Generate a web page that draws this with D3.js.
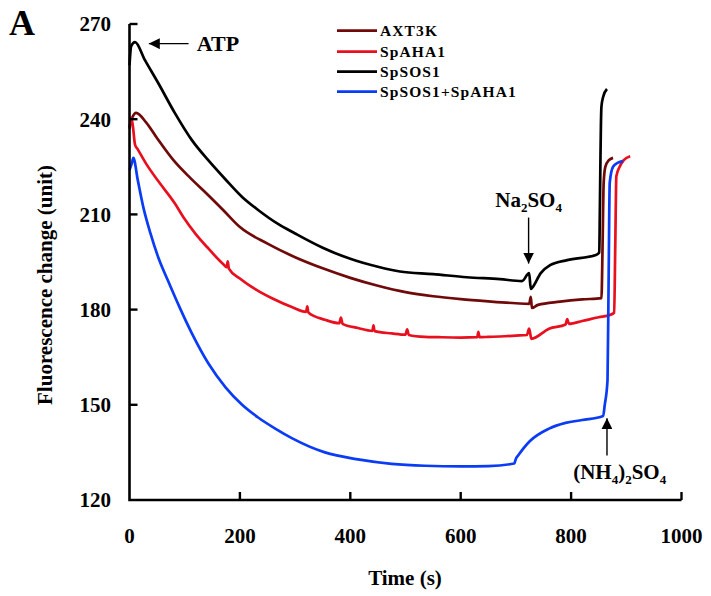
<!DOCTYPE html>
<html><head><meta charset="utf-8">
<script src="https://cdn.jsdelivr.net/npm/d3@7/dist/d3.min.js"></script>
<style>
body{margin:0;background:#fff;}
text{font-family:"Liberation Serif","Times New Roman",serif;font-weight:bold;fill:#000;}
</style></head>
<body><svg id="c" width="711" height="596"></svg>
<script>
// ---- data ----
const seriesNames = ["AXT3K", "SpAHA1", "SpSOS1", "SpSOS1+SpAHA1"];
const seriesColors = ["#700a0a", "#e8101e", "#000000", "#0a3cf5"];

const timeAXT3K = [0,5,12,30,50,80,110,140,170,200,250,300,350,400,450,500,550,600,650,700,724,727,729,740,780,820,855,857,859,862,868,876];
const valAXT3K  = [237,240.5,242,239,234,227,221.5,216.5,211.3,206,200.8,196.5,193,190,187.5,185.5,184.2,183.3,182.6,182,181.8,184,180.5,181.5,182.5,183.2,183.6,200,220,225,227,227.8];

const timeSpAHA1 = [0,3,6,10,15,30,52,82,98,120,140,170,176,178,180,200,230,260,294,320,322,324,354,380,383,386,414,440,442,444,475,500,503,506,535,560,600,630,632,634,650,680,700,720,724,728,760,790,793,796,820,850,870,878,880,882,888,895,907];
const valSpAHA1  = [237.5,240.5,238,232,230.5,226,220.5,213.5,209,203.8,199.8,194.3,193.4,195.2,192.9,189.8,186.2,183.4,180.8,179.3,181,179.1,176.8,175.7,177.5,175.5,174.2,173.3,175,173.2,172.5,172.1,173.8,172,171.4,171.3,171.2,171.3,173,171.3,171.4,171.6,171.8,172,174,170.8,174,175.3,177,175.5,176.4,177.6,178.3,179,200,222,225,227,228.3];

const timeSpSOS1 = [0,3,10,28,52,82,113,143,174,204,233,269,300,350,400,450,490,550,611,671,711,724,727,730,745,762,793,845,851,852,853,854,855,858,865];
const valSpSOS1  = [257,263,264.3,258.6,251.4,242,233.4,227,221,215.5,211.4,207,204,199.5,196,193.5,192,191.2,190.2,189.6,189,191.5,186.5,187,191.5,194,195.6,197.2,198,210,225,238,244,247,249.5];

const timeSpSOS1SpAHA1 = [0,4,7,15,25,38,52,70,90,113,143,174,204,233,264,294,354,414,475,535,600,650,697,700,704,725,760,790,820,858,861,866,868,870,876,885,894];
const valSpSOS1SpAHA1  = [224,226,227.8,220.8,212.3,204,196.5,189,181,172.5,163,155.5,150,146,142.5,139.5,135,132.8,131.4,130.8,130.6,130.7,131.5,133,134,138.5,142.5,144.3,145.2,146.5,150,157.8,190,220,225,226.3,226.8];

const seriesTimes  = [timeAXT3K, timeSpAHA1, timeSpSOS1, timeSpSOS1SpAHA1];
const seriesValues = [valAXT3K, valSpAHA1, valSpSOS1, valSpSOS1SpAHA1];

const xTicks = [0,200,400,600,800,1000];
const yTicks = [120,150,180,210,240,270];

// ---- scales ----
const svg = d3.select("#c");
const x = d3.scaleLinear().domain([0,1000]).range([129.5,681.5]);
const y = d3.scaleLinear().domain([120,270]).range([500,24]);

const line = d3.line().x(d=>x(d[0])).y(d=>y(d[1])).curve(d3.curveMonotoneX);

[0,1,2,3].forEach(i=>{
  const pts = seriesTimes[i].map((t,j)=>[t, seriesValues[i][j]]);
  svg.append("path").attr("d", line(pts)).attr("fill","none")
    .attr("stroke", seriesColors[i]).attr("stroke-width",2.7)
    .attr("stroke-linejoin","round");
});

// axes
const ax = svg.append("g");
ax.append("path").attr("d", `M${x(0)},${y(270)}V${y(120)}H${x(1000)}`)
  .attr("fill","none").attr("stroke","#000").attr("stroke-width",2.6);
yTicks.filter(v=>v>120).forEach(v=>{
  ax.append("line").attr("x1",x(0)).attr("x2",x(0)+8).attr("y1",y(v)).attr("y2",y(v))
    .attr("stroke","#000").attr("stroke-width",2.4);
});
xTicks.filter(v=>v>0).forEach(v=>{
  ax.append("line").attr("x1",x(v)).attr("x2",x(v)).attr("y1",y(120)).attr("y2",y(120)-8)
    .attr("stroke","#000").attr("stroke-width",2.4);
});
yTicks.forEach(v=>{
  ax.append("text").attr("x",111).attr("y",y(v)).attr("dy","0.35em")
    .attr("text-anchor","end").attr("font-size",21).text(v);
});
xTicks.forEach(v=>{
  ax.append("text").attr("x",x(v)).attr("y",536).attr("dy","0.35em")
    .attr("text-anchor","middle").attr("font-size",21).text(v);
});
svg.append("text").attr("x",405).attr("y",578).attr("dy","0.35em")
  .attr("text-anchor","middle").attr("font-size",21).text("Time (s)");
svg.append("text").attr("transform","translate(45,285) rotate(-90)").attr("dy","0.35em")
  .attr("text-anchor","middle").attr("font-size",21).text("Fluorescence change (unit)");
svg.append("text").attr("x",9).attr("y",35).attr("font-size",36).text("A");

// legend
const legendY = [30.7,51.7,71.7,91.7];
seriesNames.forEach((n,i)=>{
  svg.append("line").attr("x1",337).attr("x2",377).attr("y1",legendY[i]).attr("y2",legendY[i])
    .attr("stroke",seriesColors[i]).attr("stroke-width",2.7);
  svg.append("text").attr("x",380).attr("y",legendY[i]).attr("dy","0.35em")
    .attr("font-size",15.5).attr("letter-spacing",1.1).text(n);
});

// annotations
const defs = svg.append("defs");
defs.append("marker").attr("id","ah").attr("viewBox","0 0 10 10").attr("refX",10).attr("refY",5)
  .attr("markerWidth",11).attr("markerHeight",11).attr("markerUnits","userSpaceOnUse").attr("orient","auto")
  .append("path").attr("d","M0,0L10,5L0,10Z").attr("fill","#000");
function arrow(t1,v1,t2,v2){
  svg.append("line").attr("x1",x(t1)).attr("y1",y(v1)).attr("x2",x(t2)).attr("y2",y(v2))
    .attr("stroke","#000").attr("stroke-width",1.4).attr("marker-end","url(#ah)");
}
arrow(107,263.8,35,263.8);
svg.append("text").attr("x",x(122)).attr("y",y(263.8)).attr("dy","0.35em").attr("font-size",22).text("ATP");

arrow(723,209,723,194.5);
const na = svg.append("text").attr("x",x(723)).attr("y",y(214.5)).attr("dy","0.35em")
  .attr("text-anchor","middle").attr("font-size",21);
na.append("tspan").text("Na");
na.append("tspan").attr("font-size",13).attr("dy","5").text("2");
na.append("tspan").attr("dy","-5").text("SO");
na.append("tspan").attr("font-size",13).attr("dy","5").text("4");

arrow(865,134,865,145.8);
const nh = svg.append("text").attr("x",x(888)).attr("y",y(128.8)).attr("dy","0.35em")
  .attr("text-anchor","middle").attr("font-size",21);
nh.append("tspan").text("(NH");
nh.append("tspan").attr("font-size",13).attr("dy","5").text("4");
nh.append("tspan").attr("dy","-5").text(")");
nh.append("tspan").attr("font-size",13).attr("dy","5").text("2");
nh.append("tspan").attr("dy","-5").text("SO");
nh.append("tspan").attr("font-size",13).attr("dy","5").text("4");
</script></body></html>
